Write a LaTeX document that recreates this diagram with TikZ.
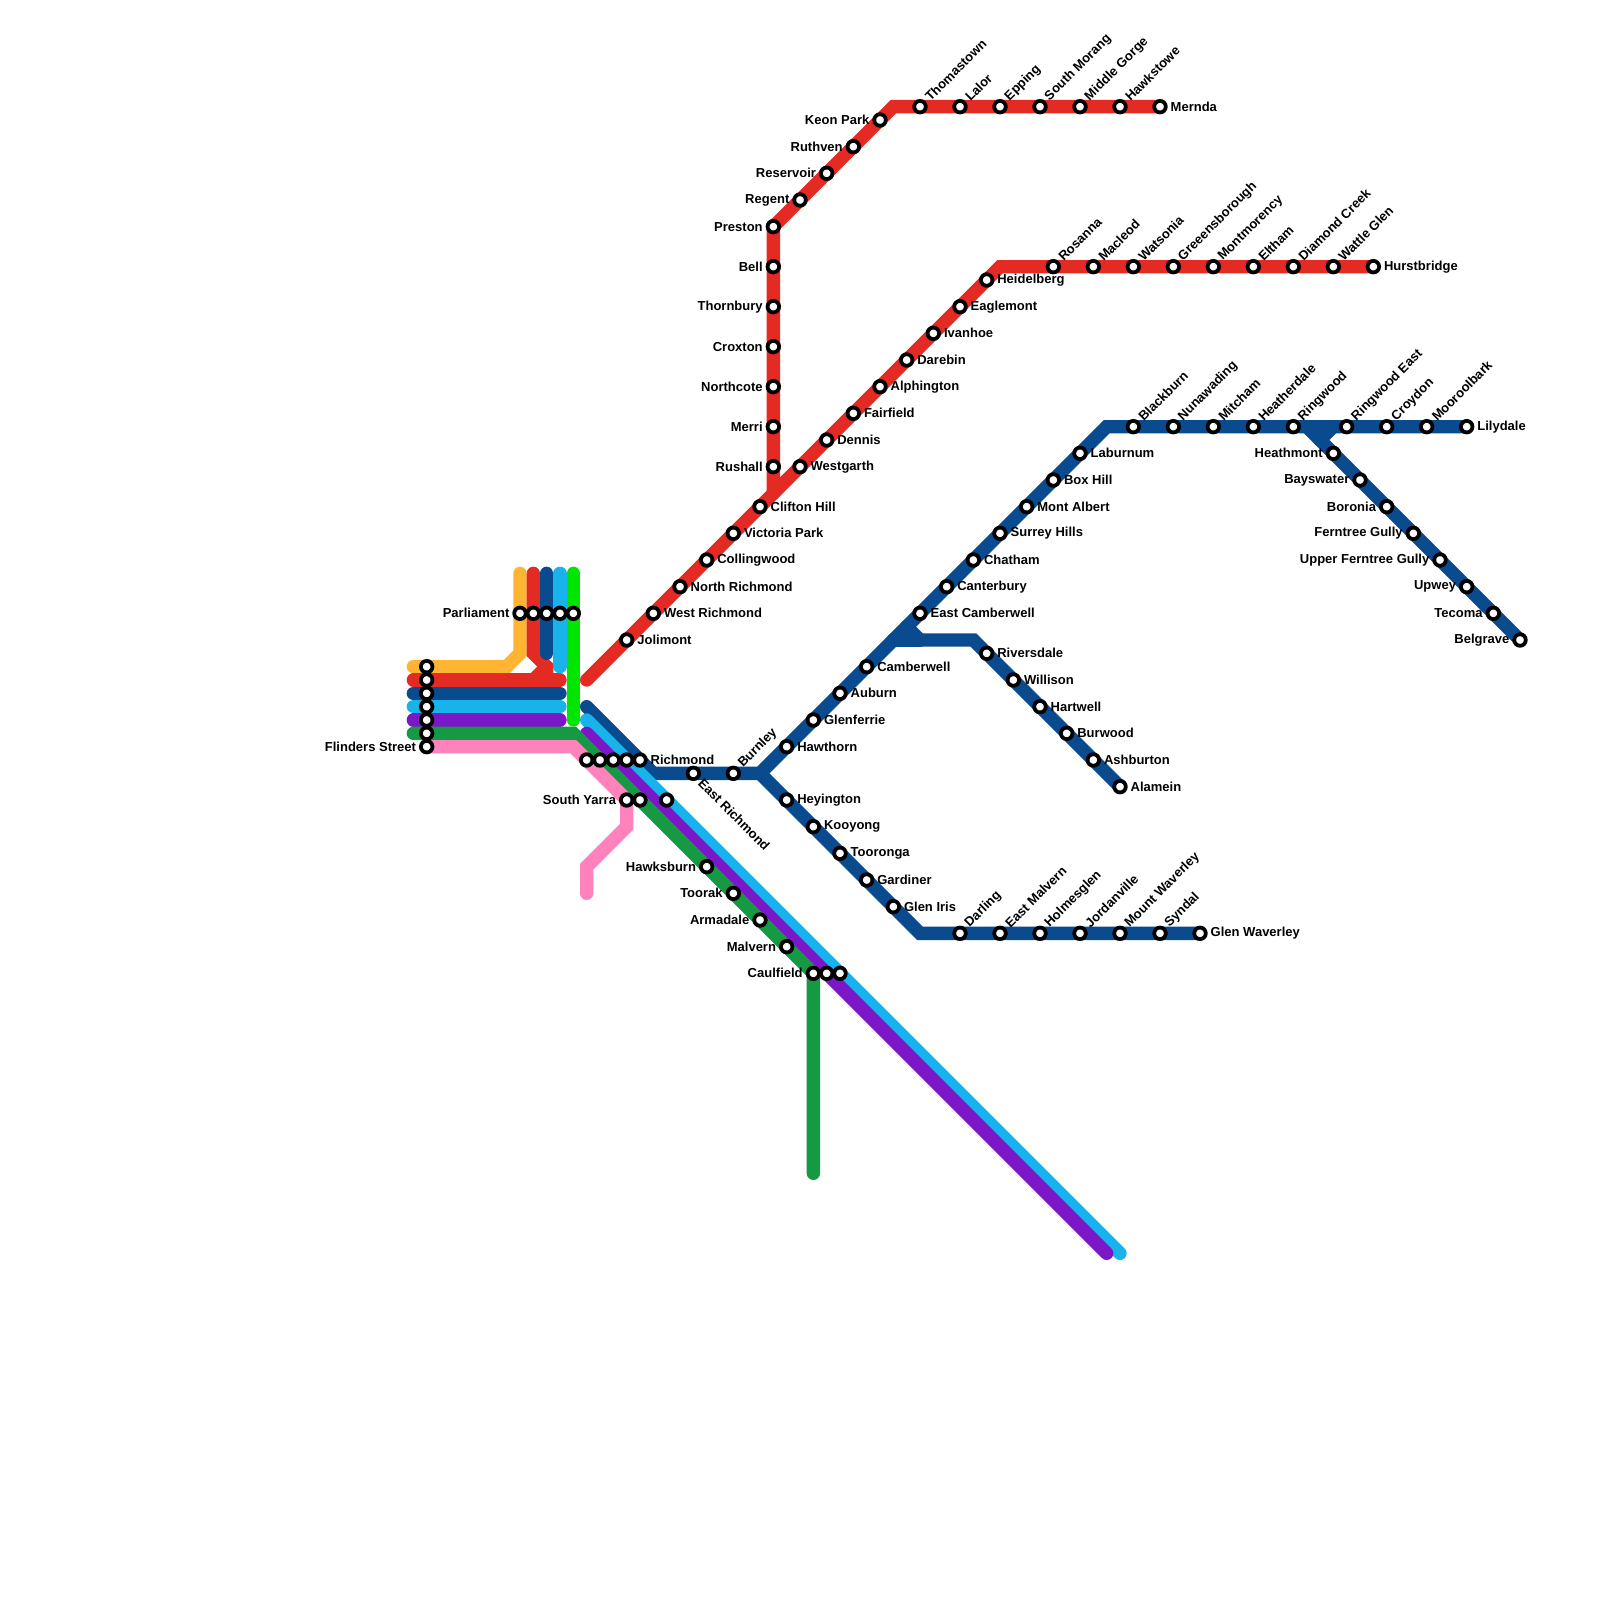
\documentclass[tikz,border=0pt]{standalone}
\usepackage{fontspec}
\setmainfont{Liberation Sans}
\usetikzlibrary{backgrounds}
\definecolor{cOrange}{HTML}{FFB531}
\definecolor{cRed}{HTML}{E42B23}
\definecolor{cNavy}{HTML}{0A4A8E}
\definecolor{cBlue}{HTML}{19B3EB}
\definecolor{cPurple}{HTML}{7A17C6}
\definecolor{cGreen}{HTML}{159A43}
\definecolor{cPink}{HTML}{FF82BD}
\definecolor{cLime}{HTML}{00E600}
\tikzset{
  x=0.3cm,y=-0.3cm,
  railline/.style={line width=0.3cm,line cap=round,line join=miter},
  stn/.style={circle,draw=black,fill=white,line width=0.85mm,minimum size=2.6mm,inner sep=0pt,outer sep=0pt},
  lbl/.style={inner sep=0pt,outer sep=0pt,text=black,font=\fontsize{8.33}{10}\bfseries\selectfont},
  lblR/.style={lbl,anchor=west},
  lblL/.style={lbl,anchor=east},
  lblU/.style={lbl,anchor=west,rotate=45},
  lblD/.style={lbl,anchor=west,rotate=-45},
}
\newcommand{\stO}[3]{\node[stn] (#1) at (#2,#3) {};}
\newcommand{\stR}[4]{\node[stn] (#1) at (#2,#3) {};\node[lblR] (#1-t) at (#2+0.8,#3) {#4};}
\newcommand{\stL}[4]{\node[stn] (#1) at (#2,#3) {};\node[lblL] (#1-t) at (#2-0.8,#3) {#4};}
\newcommand{\stU}[4]{\node[stn] (#1) at (#2,#3) {};\node[lblU] (#1-t) at (#2+0.55,#3-0.6) {#4};}
\newcommand{\stD}[4]{\node[stn] (#1) at (#2,#3) {};\node[lblD] (#1-t) at (#2+0.55,#3+0.6) {#4};}
\begin{document}
\begin{tikzpicture}
\useasboundingbox (0,0) rectangle (120,120);
% ---- city loop
\stO{fsA}{32}{50}\stO{fsB}{32}{51}\stO{fsC}{32}{52}\stO{fsD}{32}{53}\stO{fsE}{32}{54}\stO{fsF}{32}{55}
\stL{fsG}{32}{56}{Flinders Street}
\stL{parA}{39}{46}{Parliament}
\stO{parB}{40}{46}\stO{parC}{41}{46}\stO{parD}{42}{46}\stO{parE}{43}{46}
\stO{riA}{44}{57}\stO{riB}{45}{57}\stO{riC}{46}{57}\stO{riD}{47}{57}
\stR{riE}{48}{57}{Richmond}
\stL{syA}{47}{60}{South Yarra}
\stO{syB}{48}{60}\stO{syC}{50}{60}
% ---- Hurstbridge
\stR{Jolimont}{47}{48}{Jolimont}
\stR{WestRichmond}{49}{46}{West Richmond}
\stR{NorthRichmond}{51}{44}{North Richmond}
\stR{Collingwood}{53}{42}{Collingwood}
\stR{VictoriaPark}{55}{40}{Victoria Park}
\stR{CliftonHill}{57}{38}{Clifton Hill}
\stR{Westgarth}{60}{35}{Westgarth}
\stR{Dennis}{62}{33}{Dennis}
\stR{Fairfield}{64}{31}{Fairfield}
\stR{Alphington}{66}{29}{Alphington}
\stR{Darebin}{68}{27}{Darebin}
\stR{Ivanhoe}{70}{25}{Ivanhoe}
\stR{Eaglemont}{72}{23}{Eaglemont}
\stR{Heidelberg}{74}{21}{Heidelberg}
\stU{Rosanna}{79}{20}{Rosanna}
\stU{Macleod}{82}{20}{Macleod}
\stU{Watsonia}{85}{20}{Watsonia}
\stU{Greensborough}{88}{20}{Greeensborough}
\stU{Montmorency}{91}{20}{Montmorency}
\stU{Eltham}{94}{20}{Eltham}
\stU{DiamondCreek}{97}{20}{Diamond Creek}
\stU{WattleGlen}{100}{20}{Wattle Glen}
\stR{Hurstbridge}{103}{20}{Hurstbridge}
% ---- Mernda
\stL{Rushall}{58}{35}{Rushall}
\stL{Merri}{58}{32}{Merri}
\stL{Northcote}{58}{29}{Northcote}
\stL{Croxton}{58}{26}{Croxton}
\stL{Thornbury}{58}{23}{Thornbury}
\stL{Bell}{58}{20}{Bell}
\stL{Preston}{58}{17}{Preston}
\stL{Regent}{60}{15}{Regent}
\stL{Reservoir}{62}{13}{Reservoir}
\stL{Ruthven}{64}{11}{Ruthven}
\stL{KeonPark}{66}{9}{Keon Park}
\stU{Thomastown}{69}{8}{Thomastown}
\stU{Lalor}{72}{8}{Lalor}
\stU{Epping}{75}{8}{Epping}
\stU{SouthMorang}{78}{8}{South Morang}
\stU{MiddleGorge}{81}{8}{Middle Gorge}
\stU{Hawkstowe}{84}{8}{Hawkstowe}
\stR{Mernda}{87}{8}{Mernda}
% ---- Lilydale / Belgrave
\stD{EastRichmond}{52}{58}{East Richmond}
\stU{Burnley}{55}{58}{Burnley}
\stR{Hawthorn}{59}{56}{Hawthorn}
\stR{Glenferrie}{61}{54}{Glenferrie}
\stR{Auburn}{63}{52}{Auburn}
\stR{Camberwell}{65}{50}{Camberwell}
\stR{EastCamberwell}{69}{46}{East Camberwell}
\stR{Canterbury}{71}{44}{Canterbury}
\stR{Chatham}{73}{42}{Chatham}
\stR{SurreyHills}{75}{40}{Surrey Hills}
\stR{MontAlbert}{77}{38}{Mont Albert}
\stR{BoxHill}{79}{36}{Box Hill}
\stR{Laburnum}{81}{34}{Laburnum}
\stU{Blackburn}{85}{32}{Blackburn}
\stU{Nunawading}{88}{32}{Nunawading}
\stU{Mitcham}{91}{32}{Mitcham}
\stU{Heatherdale}{94}{32}{Heatherdale}
\stU{Ringwood}{97}{32}{Ringwood}
\stU{RingwoodEast}{101}{32}{Ringwood East}
\stU{Croydon}{104}{32}{Croydon}
\stU{Mooroolbark}{107}{32}{Mooroolbark}
\stR{Lilydale}{110}{32}{Lilydale}
\stL{Heathmont}{100}{34}{Heathmont}
\stL{Bayswater}{102}{36}{Bayswater}
\stL{Boronia}{104}{38}{Boronia}
\stL{FerntreeGully}{106}{40}{Ferntree Gully}
\stL{UpperFerntreeGully}{108}{42}{Upper Ferntree Gully}
\stL{Upwey}{110}{44}{Upwey}
\stL{Tecoma}{112}{46}{Tecoma}
\stL{Belgrave}{114}{48}{Belgrave}
% ---- Alamein
\stR{Riversdale}{74}{49}{Riversdale}
\stR{Willison}{76}{51}{Willison}
\stR{Hartwell}{78}{53}{Hartwell}
\stR{Burwood}{80}{55}{Burwood}
\stR{Ashburton}{82}{57}{Ashburton}
\stR{Alamein}{84}{59}{Alamein}
% ---- Glen Waverley
\stR{Heyington}{59}{60}{Heyington}
\stR{Kooyong}{61}{62}{Kooyong}
\stR{Tooronga}{63}{64}{Tooronga}
\stR{Gardiner}{65}{66}{Gardiner}
\stR{GlenIris}{67}{68}{Glen Iris}
\stU{Darling}{72}{70}{Darling}
\stU{EastMalvern}{75}{70}{East Malvern}
\stU{Holmesglen}{78}{70}{Holmesglen}
\stU{Jordanville}{81}{70}{Jordanville}
\stU{MountWaverley}{84}{70}{Mount Waverley}
\stU{Syndal}{87}{70}{Syndal}
\stR{GlenWaverley}{90}{70}{Glen Waverley}
% ---- Caulfield group
\stL{Hawksburn}{53}{65}{Hawksburn}
\stL{Toorak}{55}{67}{Toorak}
\stL{Armadale}{57}{69}{Armadale}
\stL{Malvern}{59}{71}{Malvern}
\stL{Caulfield}{61}{73}{Caulfield}
\stO{cauB}{62}{73}\stO{cauC}{63}{73}
% ---- free ends and bends
\coordinate (oTop) at (39,43); \coordinate (oA) at (39,49); \coordinate (oB) at (38,50); \coordinate (oEnd) at (31,50);
\coordinate (rTop) at (40,43); \coordinate (rA) at (40,49); \coordinate (rB) at (41,50); \coordinate (rC) at (41,51); \coordinate (rD) at (40,51);
\coordinate (rL) at (31,51); \coordinate (rR) at (42,51);
\coordinate (nTop) at (41,43); \coordinate (nBot) at (41,49); \coordinate (nL) at (31,52); \coordinate (nR) at (42,52);
\coordinate (bTop) at (42,43); \coordinate (bBot) at (42,50); \coordinate (bL) at (31,53); \coordinate (bR) at (42,53);
\coordinate (pL) at (31,54); \coordinate (pR) at (42,54);
\coordinate (gL) at (31,55); \coordinate (gC) at (43,55); \coordinate (gEnd) at (61,88);
\coordinate (kC) at (43,56); \coordinate (kA) at (47,62); \coordinate (kB) at (44,65); \coordinate (kEnd) at (44,67);
\coordinate (lTop) at (43,43); \coordinate (lBot) at (43,54);
\coordinate (hStart) at (44,51); \coordinate (hJ) at (58,37); \coordinate (hC) at (75,20);
\coordinate (mC) at (67,8);
\coordinate (nStart) at (44,53); \coordinate (nA) at (49,58); \coordinate (nJ) at (57,58); \coordinate (nB) at (83,32);
\coordinate (bStart) at (44,54); \coordinate (bEnd) at (84,94);
\coordinate (pStart) at (44,55); \coordinate (pEnd) at (83,94);
\coordinate (bgJ) at (98,32); \coordinate (bgA) at (99,33); \coordinate (bgB) at (100,32);
\coordinate (alA) at (67,48); \coordinate (alB) at (68,47); \coordinate (alC) at (69,48); \coordinate (alD) at (73,48);
\coordinate (gwC) at (69,70);
% ---- lines
\begin{scope}[on background layer]
\fill[white] (0,0) rectangle (120,120);
\draw[railline,cOrange] (oTop) -- (oA) -- (oB) -- (oEnd);
\draw[railline,cRed] (rL) -- (rR);
\draw[railline,cRed] (rTop) -- (rA) -- (rB) -- (rC);
\draw[railline,cRed] (rB) -- (rD);
\draw[railline,cRed] (hStart) -- (hC) -- (Hurstbridge.center);
\draw[railline,cRed] (hJ) -- (Preston.center) -- (mC) -- (Mernda.center);
\draw[railline,cNavy] (nTop) -- (nBot);
\draw[railline,cNavy] (nL) -- (nR);
\draw[railline,cNavy] (nStart) -- (nA) -- (nJ) -- (nB) -- (Lilydale.center);
\draw[railline,cNavy] (bgJ) -- (Belgrave.center);
\draw[railline,cNavy] (bgA) -- (bgB);
\draw[railline,cNavy] (alA) -- (alC);
\draw[railline,cNavy] (alB) -- (alC) -- (alD) -- (Alamein.center);
\draw[railline,cNavy] (nJ) -- (gwC) -- (GlenWaverley.center);
\draw[railline,cBlue] (bTop) -- (bBot);
\draw[railline,cBlue] (bL) -- (bR);
\draw[railline,cBlue] (bStart) -- (bEnd);
\draw[railline,cPurple] (pL) -- (pR);
\draw[railline,cPurple] (pStart) -- (pEnd);
\draw[railline,cGreen] (gL) -- (gC) -- (Caulfield.center) -- (gEnd);
\draw[railline,cPink] (fsG.center) -- (kC) -- (syA.center) -- (kA) -- (kB) -- (kEnd);
\draw[railline,cLime] (lTop) -- (lBot);
\end{scope}
\end{tikzpicture}
\end{document}
